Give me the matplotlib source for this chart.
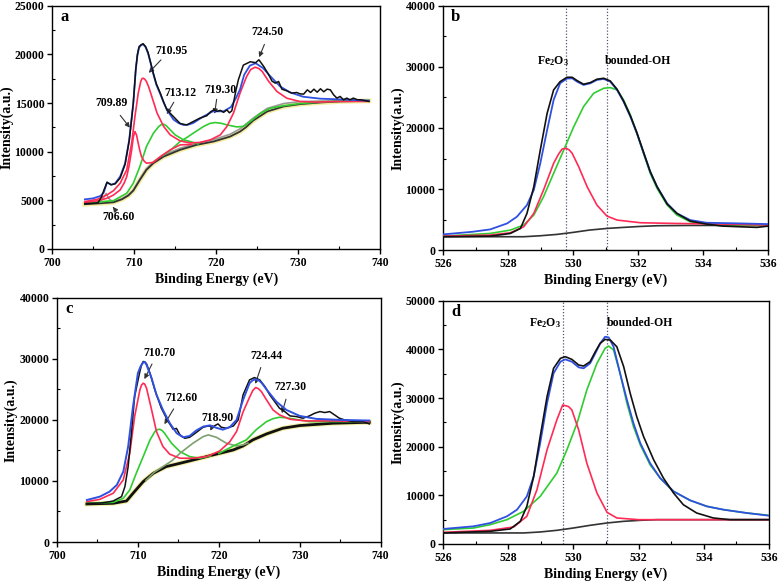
import matplotlib
matplotlib.use("Agg")
from matplotlib import pyplot as plt
from matplotlib.ticker import MultipleLocator

# ---- panel a : Fe 2p (sample 1) ----
a_blue_x = [704.0, 705.0, 705.9, 706.3, 706.7, 707.2, 707.7, 708.3, 708.9, 709.4, 709.65, 709.9, 710.2, 710.4,
            710.6, 710.85, 711.1, 711.4, 711.7, 712.0, 712.3, 712.7, 713.2, 713.6, 714.0, 714.8, 715.4, 716.0,
            716.6, 717.2, 718.4, 719.6, 720.9, 721.8, 722.4, 722.9, 723.4, 724.1, 724.8, 725.7, 726.6, 727.8,
            729.0, 730.6, 732.7, 735.1, 738.6]
a_blue_y = [5100, 5200, 5450, 5800, 6850, 6600, 6750, 7450, 8800, 11200, 13100, 15000, 18400, 19900,
            20700, 20950, 21050, 20750, 20100, 19150, 18100, 16900, 15900, 15050, 14300, 13300, 12950, 12750,
            12780, 12950, 13600, 14150, 14150, 14600, 15500, 16400, 17900, 18850, 19100, 18600, 17750, 16700,
            16100, 15650, 15450, 15380, 15250]
a_black_x = [704.0, 705.0, 705.6, 706.0, 706.3, 706.7, 707.2, 707.7, 708.3, 708.9, 709.4, 709.65, 709.9, 710.2,
             710.4, 710.6, 710.85, 711.1, 711.4, 711.7, 712.0, 712.3, 712.7, 713.2, 713.6, 714.0, 714.8, 715.6,
             716.4, 717.2, 718.0, 718.85, 719.3, 719.7, 720.1, 720.5, 720.9, 721.3, 721.6, 721.9, 722.1, 722.4,
             722.7, 723.3, 724.15, 724.8, 725.2, 725.8, 726.4, 726.8, 727.2, 727.6, 728.0, 728.6, 729.2, 729.8,
             730.2, 730.65, 731.1, 731.5, 731.9, 732.3, 732.7, 733.1, 733.5, 733.9, 734.3, 734.7, 735.1, 735.5,
             735.9, 736.3, 736.7, 737.2, 737.6, 738.6]
a_black_y = [4650, 4700, 4750, 5300, 6000, 6850, 6600, 6700, 7300, 8700, 11100, 13000, 15000, 18500,
             20000, 20800, 21000, 21100, 20800, 20200, 19200, 18200, 17000, 16000, 15100, 14300, 13600, 12900,
             12750, 13100, 13450, 13700, 14100, 14300, 14150, 14250, 14050, 14300, 14000, 14200, 15000, 16300,
             17400, 18900, 19250, 19150, 19450, 18750, 17900, 17250, 17050, 17220, 16430, 16260, 16020, 16090,
             15950, 15920, 16360, 16090, 16430, 16120, 16470, 16160, 16430, 16360, 15850, 15510, 15680, 15340,
             15510, 15340, 15510, 15340, 15340, 15170]
a_red1_x = [704.0, 705.5, 706.7, 707.5, 708.3, 708.8, 709.1, 709.4, 709.7, 709.9, 710.1, 710.3, 710.5, 710.7,
            710.9, 711.2, 711.5, 712.3, 713.2, 714.4, 715.6, 717.0]
a_red1_y = [4770, 4950, 5210, 5550, 6070, 6800, 7440, 8600, 10190, 11500, 12070, 11700, 10870, 10100,
            9500, 9050, 8820, 8890, 9500, 10190, 10700, 10750]
a_red2_x = [704.0, 705.5, 706.7, 707.5, 708.3, 709.1, 709.7, 710.1, 710.5, 710.8, 710.95, 711.1, 711.3, 711.5,
            711.8, 712.15, 712.8, 713.6, 714.4, 715.6, 716.8, 718.0, 719.3, 720.5, 721.3, 722.1, 722.9, 723.7,
            724.2, 724.75, 725.2, 725.6, 726.4, 727.4, 728.6, 730.2, 732.3, 735.1, 738.6]
a_red2_y = [4870, 5100, 5560, 6000, 6760, 8130, 10870, 13620, 16020, 17200, 17500, 17560, 17450, 17220,
            16600, 15680, 13960, 12590, 11730, 11110, 10900, 10950, 11220, 11730, 12590, 13960, 16020, 17730,
            18450, 18690, 18550, 18250, 17220, 16190, 15500, 15160, 15100, 15170, 15170]
a_green1_x = [704.0, 707.5, 709.1, 709.9, 710.7, 711.5, 712.35, 713.0, 713.3, 713.6, 713.9, 714.2, 715.0, 716.0,
              716.8, 717.8]
a_green1_y = [4700, 4970, 5730, 6760, 8470, 10530, 11900, 12590, 12780, 12830, 12680, 12420, 11730, 11220,
              11050, 10800]
a_green2_x = [713.5, 714.5, 715.6, 716.4, 717.2, 718.45, 719.2, 719.85, 720.6, 721.3, 722.5, 723.3, 724.15,
              725.4, 726.6, 728.0, 730.2, 732.7, 735.1, 738.6]
a_green2_y = [9600, 10200, 11050, 11450, 11900, 12590, 12900, 13000, 12920, 12760, 12550, 12600, 13100,
              13960, 14470, 14700, 14950, 15100, 15200, 15250]
a_bg_x = [704.0, 706.0, 707.5, 708.5, 709.3, 709.9, 710.7, 711.5, 712.35, 713.6, 715.6, 717.6, 719.7, 721.7,
          722.9, 723.6, 724.5, 726.2, 728.2, 730.2, 732.7, 735.1, 738.6]
a_bg_y = [4600, 4700, 4800, 5100, 5500, 6000, 7100, 8130, 8820, 9500, 10190, 10700, 11050, 11560,
          12070, 12500, 13200, 14130, 14650, 14890, 15060, 15170, 15230]
a_gray_x = [704.0, 705.8, 706.3, 706.6, 706.9, 707.4, 708.5, 709.3, 709.9, 710.7, 711.5, 712.35, 713.6, 715.6,
            717.6, 719.7, 721.7, 722.9, 724.5, 726.2, 728.2, 730.2, 732.7, 735.1, 738.6]
a_gray_y = [4650, 4800, 5300, 5700, 5200, 4850, 5150, 5550, 6050, 7200, 8250, 8950, 9650, 10350,
            10850, 11250, 11800, 12350, 13450, 14450, 14950, 15150, 15200, 15250, 15280]
a_peaks = ["709.89", "710.95", "713.12", "719.30", "724.50", "706.60"]
a_text_xy = [(707.3, 14990), (714.6, 20400), (715.6, 16020), (720.5, 16360), (726.3, 22330), (708.1, 3320)]
a_tail_xy = [(708.1, 13960), (713.5, 19650), (715.0, 15330), (720.1, 15670), (726.0, 21300), (707.7, 4010)]
a_head_xy = [(709.7, 12240), (711.55, 17900), (713.8, 13610), (719.75, 13610), (725.1, 19450), (707.2, 4550)]

# ---- panel b : O 1s (sample 1) ----
b_blue_x = [526.0, 526.9, 527.45, 527.97, 528.27, 528.58, 528.79, 528.99, 529.2, 529.4, 529.6, 529.81, 529.97,
            530.12, 530.32, 530.53, 530.73, 530.94, 531.14, 531.35, 531.55, 531.76, 531.96, 532.17, 532.37,
            532.58, 532.89, 533.19, 533.6, 534.1, 535.14, 536.0]
b_blue_y = [2570, 3000, 3390, 4370, 5460, 7380, 9840, 14210, 19670, 24590, 27320, 28090, 28140,
            27590, 27050, 27320, 27870, 28030, 27590, 26230, 24310, 21860, 19120, 15850, 12840,
            10380, 7650, 6010, 4920, 4480, 4370, 4260]
b_black_x = [526.0, 527.45, 527.86, 528.07, 528.38, 528.58, 528.79, 528.99, 529.2, 529.4, 529.6, 529.81, 529.97,
             530.12, 530.32, 530.53, 530.73, 530.94, 531.14, 531.35, 531.55, 531.76, 531.96, 532.17, 532.37,
             532.58, 532.89, 533.19, 533.6, 534.1, 534.6, 535.14, 535.65, 536.0]
b_black_y = [2190, 2290, 2570, 2730, 3550, 6010, 10380, 16390, 22400, 26230, 27590, 28300, 28300,
             27760, 27160, 27430, 27980, 28140, 27700, 26340, 24420, 21970, 19230, 15960, 12840,
             10380, 7540, 6010, 4750, 4260, 3930, 3820, 3720, 3930]
b_red_x = [526.0, 527.45, 528.07, 528.48, 528.79, 529.09, 529.4, 529.55, 529.66, 529.79, 529.88, 529.97, 530.17,
           530.43, 530.73, 531.04, 531.35, 532.07, 533.09, 534.6, 536.0]
b_red_y = [2290, 2460, 2840, 3820, 6010, 9840, 14210, 15700, 16550, 16670, 16400, 15850, 13660,
           10380, 7380, 5570, 4920, 4480, 4370, 4260, 4100]
b_green_x = [526.0, 527.45, 528.07, 528.48, 528.79, 529.09, 529.4, 529.71, 530.02, 530.32, 530.63, 530.94,
             531.14, 531.35, 531.55, 531.76, 531.96, 532.17, 532.37, 532.58, 532.89, 533.19, 533.6, 534.1,
             535.14, 536.0]
b_green_y = [2290, 2730, 3280, 4100, 5740, 8740, 12570, 16390, 20220, 23500, 25680, 26500,
             26610, 26230, 24590, 22130, 19120, 15740, 12570, 10110, 7380, 5740, 4640, 4260,
             4100, 3990]
b_bg_x = [526.0, 528.48, 528.99, 529.5, 530.0, 530.5, 531.04, 531.55, 532.07, 532.58, 533.6, 536.0]
b_bg_y = [2190, 2190, 2350, 2570, 2900, 3280, 3550, 3720, 3880, 3990, 4040, 4040]
b_lines = [529.78, 531.04]
b_names = ["Fe$_2$O$_3$", "bounded-OH"]
b_names_xy = [(529.38, 30900), (532.0, 30900)]

# ---- panel c : Fe 2p (sample 2) ----
c_blue_x = [703.7, 705.3, 706.5, 707.4, 708.2, 708.8, 709.4, 710.0, 710.35, 710.66, 710.85, 711.07, 711.3, 711.7,
            712.3, 713.1, 713.95, 714.8, 715.6, 716.4, 717.2, 718.07, 718.9, 719.7, 720.5, 721.35, 722.2, 723.0,
            723.8, 724.2, 724.56, 724.9, 725.26, 726.1, 727.1, 728.35, 730.0, 732.05, 734.9, 738.6]
c_blue_y = [6880, 7430, 8250, 9340, 11530, 15630, 22180, 27640, 28800, 29390, 29500, 29020, 28200, 26820,
            24090, 21630, 19450, 17810, 17150, 17370, 18250, 18900, 19100, 18700, 18400, 18800, 20000, 23270,
            26000, 26500, 26660, 26500, 26110, 24640, 23000, 21630, 20650, 20160, 20000, 19890]
c_black_x = [703.7, 705.5, 706.5, 706.95, 707.98, 708.4, 708.8, 709.2, 709.6, 710.2, 710.45, 710.66, 710.85,
             711.07, 711.5, 712.1, 712.9, 713.75, 714.36, 714.77, 715.2, 715.8, 716.4, 717.2, 718.07, 718.7,
             719.3, 719.9, 720.3, 720.9, 721.8, 722.4, 723.0, 723.8, 724.4, 725.06, 725.7, 726.3, 726.9, 727.5,
             728.15, 728.8, 729.6, 730.4, 731.2, 731.85, 732.5, 733.1, 733.7, 734.3, 734.9, 735.55, 736.6,
             737.8, 738.6]
c_black_y = [6300, 6400, 6600, 6720, 7430, 9070, 12350, 17810, 23820, 27640, 29000, 29560, 29500,
             29170, 27640, 24910, 21910, 19720, 18470, 18600, 17540, 16990, 17150, 17920, 18800, 19000,
             18900, 19340, 18800, 18630, 19000, 20000, 24090, 26550, 26930, 26550, 25460, 24090, 23000, 21910,
             21360, 20650, 20540, 20270, 20650, 21090, 21360, 21200, 21360, 20820, 20270, 20000, 19720,
             19720, 19340]
c_red_x = [703.7, 705.3, 706.95, 708.19, 709.0, 709.6, 710.25, 710.45, 710.66, 710.85, 711.07, 711.7, 712.3,
           713.1, 713.95, 715.2, 716.8, 718.5, 720.1, 721.35, 722.2, 723.0, 723.8, 724.2, 724.56, 724.9, 725.26,
           725.9, 726.7, 727.5, 728.8, 730.8, 734.1, 738.6]
c_red_y = [6610, 6990, 7980, 10160, 14530, 20540, 24910, 25700, 26000, 25850, 25190, 21630, 18080,
           15630, 14370, 13720, 13720, 13990, 14900, 16400, 18100, 21300, 23700, 24800, 25300, 25100, 24640,
           23270, 21630, 20820, 20100, 19830, 19830, 19720]
c_green1_x = [703.7, 706.95, 708.19, 709.0, 709.8, 710.66, 711.5, 712.1, 712.4, 712.7, 713.0, 713.3, 714.16,
              715.2, 716.4, 717.65, 719.0]
c_green1_y = [6340, 6500, 7160, 8520, 11250, 13990, 16720, 18080, 18400, 18470, 18250, 17810, 16170,
              14800, 13990, 13720, 14100]
c_green2_x = [711.0, 712.0, 713.1, 714.2, 715.2, 716.8, 718.07, 718.7, 719.7, 720.95, 722.2, 723.0, 723.6]
c_green2_y = [10100, 11400, 12350, 13300, 14530, 16170, 17260, 17540, 17150, 16170, 15730, 15900, 16200]
c_green3_x = [720.0, 721.8, 723.4, 724.6, 725.9, 726.7, 727.5, 728.3, 729.2, 731.2, 734.1, 738.6]
c_green3_y = [14500, 15730, 16720, 18360, 19720, 20200, 20430, 20350, 20160, 19720, 19720, 19720]
c_bg_x = [703.7, 706.95, 708.6, 709.4, 710.66, 711.9, 713.5, 715.2, 717.2, 719.3, 721.8, 723.0, 724.2, 725.9,
          727.9, 730.0, 734.1, 738.6]
c_bg_y = [6230, 6340, 6720, 7980, 9890, 11250, 12350, 12890, 13550, 14260, 15080, 15730, 16720, 17700,
          18630, 19070, 19450, 19610]
c_peaks = ["710.70", "712.60", "718.90", "724.44", "727.30"]
c_text_xy = [(712.7, 30930), (715.4, 23550), (719.9, 20270), (725.9, 30380), (728.8, 25460)]
c_tail_xy = [(711.9, 29550), (714.6, 22180), (719.3, 19180), (725.3, 29010), (728.4, 23820)]
c_head_xy = [(710.65, 26270), (713.1, 18900), (718.8, 17810), (724.4, 25460), (727.7, 20650)]

# ---- panel d : O 1s (sample 2) ----
d_blue_x = [526.0, 526.94, 527.45, 527.96, 528.27, 528.57, 528.78, 528.98, 529.19, 529.39, 529.6, 529.75,
            529.95, 530.16, 530.31, 530.51, 530.67, 530.82, 530.97, 531.08, 531.23, 531.43, 531.64, 531.84,
            532.05, 532.35, 532.66, 533.07, 533.58, 534.09, 534.6, 535.32, 536.0]
d_blue_y = [3080, 3630, 4310, 5680, 7050, 9780, 13890, 20730, 28930, 35090, 37480, 37960,
            37480, 36320, 36120, 37140, 39190, 41250, 42610, 42480, 40560, 35090, 29620, 24830,
            20730, 16620, 13540, 10810, 8960, 7730, 7050, 6360, 5810]
d_black_x = [526.0, 527.45, 528.06, 528.37, 528.57, 528.78, 528.98, 529.19, 529.39, 529.6, 529.75, 529.95,
             530.16, 530.31, 530.51, 530.67, 530.82, 530.97, 531.13, 531.33, 531.54, 531.74, 531.94, 532.15,
             532.46, 532.76, 533.07, 533.37, 533.78, 534.29, 534.8, 536.0]
d_black_y = [2260, 2600, 3080, 4650, 7730, 13890, 22090, 30300, 36120, 38170, 38510, 37960,
             36800, 36590, 37480, 39540, 41250, 42070, 41930, 40560, 36460, 30990, 26200, 22090,
             17300, 13540, 10470, 8070, 6360, 5340, 4990, 4990]
d_red_x = [526.0, 527.45, 528.17, 528.57, 528.88, 529.19, 529.49, 529.67, 529.85, 529.95, 530.16, 530.41,
           530.72, 531.03, 531.33, 532.0, 536.0]
d_red_y = [2390, 2800, 3490, 5680, 11150, 19360, 25510, 28590, 28250, 27570, 23460, 16620,
           10470, 6500, 5340, 4990, 4990]
d_green_x = [526.0, 526.94, 527.45, 527.96, 528.47, 528.98, 529.49, 529.8, 530.11, 530.41, 530.72, 530.97,
             531.08, 531.23, 531.43, 531.64, 531.84, 532.05, 532.35, 532.66, 533.07, 533.58, 534.09, 534.6,
             535.32, 536.0]
d_green_y = [2940, 3280, 3970, 4990, 6700, 9780, 14570, 19360, 24830, 31670, 37140, 40220,
             40700, 39880, 35090, 28930, 24150, 20380, 16280, 13540, 10810, 8960, 7730, 7050,
             6360, 5880]
d_bg_x = [526.0, 528.47, 528.98, 529.49, 530.0, 530.51, 531.03, 531.54, 532.05, 532.56, 536.0]
d_bg_y = [2260, 2260, 2460, 2800, 3280, 3830, 4310, 4650, 4860, 4990, 4990]
d_lines = [529.67, 531.03]
d_names_xy = [(529.14, 45350), (532.05, 45350)]

BLUE = '#3050e0'
RED = '#ff2a55'
GREEN = '#30cc30'
BLACK = '#111111'

plt.rcParams['font.family'] = 'Liberation Serif'
plt.rcParams['font.weight'] = 'bold'
plt.rcParams['axes.labelweight'] = 'bold'
plt.rcParams['mathtext.fontset'] = 'custom'
plt.rcParams['mathtext.rm'] = 'Liberation Serif:bold'
plt.rcParams['mathtext.it'] = 'Liberation Serif:bold'
plt.rcParams['mathtext.bf'] = 'Liberation Serif:bold'

fig = plt.figure(figsize=(7.8, 5.83), dpi=100)
ax_a = fig.add_axes([0.0667, 0.573, 0.421, 0.417])
ax_b = fig.add_axes([0.568, 0.571, 0.417, 0.419])
ax_c = fig.add_axes([0.073, 0.0703, 0.415, 0.419])
ax_d = fig.add_axes([0.568, 0.067, 0.418, 0.417])


def style(ax, xlim, ylim, xmaj, xmin, ymaj, ymin, letter):
    ax.set_xlim(*xlim)
    ax.set_ylim(*ylim)
    ax.xaxis.set_major_locator(MultipleLocator(xmaj))
    ax.xaxis.set_minor_locator(MultipleLocator(xmin))
    ax.yaxis.set_major_locator(MultipleLocator(ymaj))
    ax.yaxis.set_minor_locator(MultipleLocator(ymin))
    ax.tick_params(which='major', direction='out', length=3.5, width=1, labelsize=8.5, pad=2)
    ax.tick_params(which='minor', direction='in', length=2.5, width=0.8)
    for sp in ax.spines.values():
        sp.set_linewidth(1.0)
    ax.set_xlabel('Binding Energy (eV)', fontsize=10, labelpad=3)
    ax.set_ylabel('Intensity(a.u.)', fontsize=10, labelpad=1)
    ax.text(0.025, 0.985, letter, transform=ax.transAxes, fontsize=12, fontweight='bold', va='top', ha='left')


def annotate(ax, labels, text_xy, tail_xy, head_xy):
    for lab, t, s, h in zip(labels, text_xy, tail_xy, head_xy):
        ax.text(t[0], t[1], lab, fontsize=8.5, fontweight='bold', ha='center', va='center')
        ax.annotate('', xy=h, xytext=s,
                    arrowprops=dict(arrowstyle='-|>', color='#333333', lw=0.8, mutation_scale=7))


# panel a
ax = ax_a
ax.plot(a_bg_x, a_bg_y, color='#f3eea0', lw=3.5, zorder=1)
ax.plot(a_gray_x, a_gray_y, color='#999999', lw=1.2, zorder=2)
ax.plot(a_bg_x, a_bg_y, color='#333333', lw=1.3, zorder=3)
ax.plot(a_green1_x, a_green1_y, color=GREEN, lw=1.2, zorder=4)
ax.plot(a_green2_x, a_green2_y, color=GREEN, lw=1.2, zorder=4)
ax.plot(a_red1_x, a_red1_y, color=RED, lw=1.2, zorder=5)
ax.plot(a_red2_x, a_red2_y, color=RED, lw=1.2, zorder=5)
ax.plot(a_blue_x, a_blue_y, color=BLUE, lw=1.3, zorder=6)
ax.plot(a_black_x, a_black_y, color=BLACK, lw=1.1, zorder=7)
style(ax, (700, 740), (0, 25000), 10, 5, 5000, 2500, 'a')
annotate(ax, a_peaks, a_text_xy, a_tail_xy, a_head_xy)

# panel c
ax = ax_c
ax.plot(c_bg_x, c_bg_y, color='#f3eea0', lw=3.5, zorder=1)
ax.plot(c_bg_x, c_bg_y, color=BLACK, lw=2.0, zorder=2)
ax.plot(c_green1_x, c_green1_y, color=GREEN, lw=1.2, zorder=4)
ax.plot(c_green2_x, c_green2_y, color='#7f9f70', lw=1.2, zorder=4)
ax.plot(c_green3_x, c_green3_y, color=GREEN, lw=1.2, zorder=4)
ax.plot(c_red_x, c_red_y, color=RED, lw=1.2, zorder=5)
ax.plot(c_black_x, c_black_y, color=BLACK, lw=1.1, zorder=6)
ax.plot(c_blue_x, c_blue_y, color=BLUE, lw=1.4, zorder=7)
style(ax, (700, 740), (0, 40000), 10, 5, 10000, 5000, 'c')
annotate(ax, c_peaks, c_text_xy, c_tail_xy, c_head_xy)

# panels b and d
for ax, data, ylim, ymaj, vlines, names_xy, letter in [
        (ax_b, (b_bg_x, b_bg_y, b_green_x, b_green_y, b_red_x, b_red_y, b_blue_x, b_blue_y, b_black_x, b_black_y),
         (0, 40000), 10000, b_lines, b_names_xy, 'b'),
        (ax_d, (d_bg_x, d_bg_y, d_green_x, d_green_y, d_red_x, d_red_y, d_blue_x, d_blue_y, d_black_x, d_black_y),
         (0, 50000), 10000, d_lines, d_names_xy, 'd')]:
    bgx, bgy, gx, gy, rx, ry, blx, bly, kx, ky = data
    ax.plot(bgx, bgy, color='#333333', lw=1.2, zorder=2)
    ax.plot(gx, gy, color=GREEN, lw=1.2, zorder=3)
    ax.plot(rx, ry, color=RED, lw=1.2, zorder=4)
    ax.plot(blx, bly, color=BLUE, lw=1.3, zorder=5)
    ax.plot(kx, ky, color=BLACK, lw=1.2, zorder=6)
    for v in vlines:
        ax.axvline(v, color='#555570', lw=0.9, ls=(0, (1, 1.5)), zorder=1)
    for name, xy in zip(b_names, names_xy):
        ax.text(xy[0], xy[1], name, fontsize=8.5, fontweight='bold', ha='center', va='center')
    style(ax, (526, 536), ylim, 2, 1, ymaj, ymaj / 2, letter)

fig.savefig('out.png', dpi=100)
